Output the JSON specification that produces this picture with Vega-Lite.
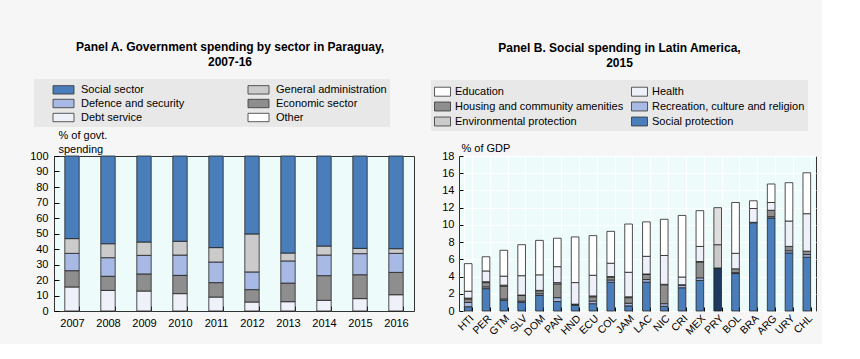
{
  "$schema": "https://vega.github.io/schema/vega-lite/v6.json",
  "background": "#f6f6f6",
  "padding": {"left": 29, "top": 40, "right": 5, "bottom": 5},
  "config": {
    "font": "Liberation Sans",
    "view": {"fill": "#eefbfb", "stroke": "#333333", "strokeWidth": 1},
    "axis": {"labelFontSize": 11, "labelColor": "#000000", "domain": false, "tickColor": "#000000", "gridColor": "#ffffff", "gridWidth": 1, "titleFontWeight": "normal", "titleFontSize": 11, "titleColor": "#000000"},
    "legend": {"labelFontSize": 11, "labelColor": "#000000", "fillColor": "#e8e8e8", "symbolStrokeColor": "#333333", "symbolStrokeWidth": 0.8},
    "title": {"fontSize": 12, "fontWeight": "bold", "anchor": "middle", "color": "#000000", "lineHeight": 15.5},
    "concat": {"spacing": 15}
  },
  "hconcat": [
    {
      "width": 360,
      "height": 155,
      "title": {"text": ["Panel A. Government spending by sector in Paraguay,", "2007-16"], "dx": -4, "offset": 10},
      "data": {"values": [
        {"year": "2007", "s": "Debt service", "o": 1, "v": 15.5}, {"year": "2007", "s": "Economic sector", "o": 2, "v": 10.5}, {"year": "2007", "s": "Defence and security", "o": 3, "v": 11.2}, {"year": "2007", "s": "General administration", "o": 4, "v": 9.5}, {"year": "2007", "s": "Social sector", "o": 5, "v": 53.3},
        {"year": "2008", "s": "Debt service", "o": 1, "v": 13.3}, {"year": "2008", "s": "Economic sector", "o": 2, "v": 9.1}, {"year": "2008", "s": "Defence and security", "o": 3, "v": 12.0}, {"year": "2008", "s": "General administration", "o": 4, "v": 9.0}, {"year": "2008", "s": "Social sector", "o": 5, "v": 56.6},
        {"year": "2009", "s": "Debt service", "o": 1, "v": 12.9}, {"year": "2009", "s": "Economic sector", "o": 2, "v": 11.0}, {"year": "2009", "s": "Defence and security", "o": 3, "v": 12.0}, {"year": "2009", "s": "General administration", "o": 4, "v": 8.6}, {"year": "2009", "s": "Social sector", "o": 5, "v": 55.5},
        {"year": "2010", "s": "Debt service", "o": 1, "v": 11.2}, {"year": "2010", "s": "Economic sector", "o": 2, "v": 11.8}, {"year": "2010", "s": "Defence and security", "o": 3, "v": 13.1}, {"year": "2010", "s": "General administration", "o": 4, "v": 8.9}, {"year": "2010", "s": "Social sector", "o": 5, "v": 55.0},
        {"year": "2011", "s": "Debt service", "o": 1, "v": 9.0}, {"year": "2011", "s": "Economic sector", "o": 2, "v": 9.3}, {"year": "2011", "s": "Defence and security", "o": 3, "v": 13.3}, {"year": "2011", "s": "General administration", "o": 4, "v": 9.3}, {"year": "2011", "s": "Social sector", "o": 5, "v": 59.1},
        {"year": "2012", "s": "Debt service", "o": 1, "v": 5.8}, {"year": "2012", "s": "Economic sector", "o": 2, "v": 8.0}, {"year": "2012", "s": "Defence and security", "o": 3, "v": 11.4}, {"year": "2012", "s": "General administration", "o": 4, "v": 24.5}, {"year": "2012", "s": "Social sector", "o": 5, "v": 50.3},
        {"year": "2013", "s": "Debt service", "o": 1, "v": 6.0}, {"year": "2013", "s": "Economic sector", "o": 2, "v": 12.0}, {"year": "2013", "s": "Defence and security", "o": 3, "v": 14.3}, {"year": "2013", "s": "General administration", "o": 4, "v": 5.1}, {"year": "2013", "s": "Social sector", "o": 5, "v": 62.6},
        {"year": "2014", "s": "Debt service", "o": 1, "v": 6.9}, {"year": "2014", "s": "Economic sector", "o": 2, "v": 15.9}, {"year": "2014", "s": "Defence and security", "o": 3, "v": 13.3}, {"year": "2014", "s": "General administration", "o": 4, "v": 5.8}, {"year": "2014", "s": "Social sector", "o": 5, "v": 58.1},
        {"year": "2015", "s": "Debt service", "o": 1, "v": 8.0}, {"year": "2015", "s": "Economic sector", "o": 2, "v": 15.4}, {"year": "2015", "s": "Defence and security", "o": 3, "v": 13.6}, {"year": "2015", "s": "General administration", "o": 4, "v": 3.4}, {"year": "2015", "s": "Social sector", "o": 5, "v": 59.6},
        {"year": "2016", "s": "Debt service", "o": 1, "v": 10.5}, {"year": "2016", "s": "Economic sector", "o": 2, "v": 14.4}, {"year": "2016", "s": "Defence and security", "o": 3, "v": 12.3}, {"year": "2016", "s": "General administration", "o": 4, "v": 3.0}, {"year": "2016", "s": "Social sector", "o": 5, "v": 59.8}
      ]},
      "mark": {"type": "bar", "stroke": "#222222", "strokeWidth": 0.8},
      "encoding": {
        "x": {"field": "year", "type": "nominal", "scale": {"paddingInner": 0.6, "paddingOuter": 0.3},
          "axis": {"title": null, "labelAngle": 0, "tickBand": "extent", "tickSize": -5, "labelPadding": 11, "grid": true}},
        "y": {"field": "v", "type": "quantitative", "stack": "zero", "scale": {"domain": [0, 100]},
          "axis": {"title": ["% of govt.", "spending"], "titleAngle": 0, "titleX": 4, "titleY": -27, "titleAlign": "left", "titleBaseline": "top", "titleLineHeight": 14,
            "values": [0, 10, 20, 30, 40, 50, 60, 70, 80, 90, 100], "tickSize": -5, "labelPadding": 11, "grid": false}},
        "order": {"field": "o", "type": "quantitative", "sort": "ascending"},
        "color": {"field": "s", "type": "nominal",
          "scale": {"domain": ["Social sector", "General administration", "Defence and security", "Economic sector", "Debt service", "Other"],
            "range": ["#4a7ebb", "#cbcbcb", "#a7b9e4", "#8e8e8e", "#eef0fa", "#ffffff"]},
          "legend": {"title": null, "orient": "none", "legendX": -20, "legendY": -77, "direction": "horizontal", "columns": 2,
            "symbolType": "M-1.5,-0.6H1.5V0.6H-1.5Z", "symbolSize": 196, "labelOffset": 10, "padding": 3, "symbolOffset": 19, "rowPadding": 0, "columnPadding": 47, "labelLimit": 300}}
      }
    },
    {
      "width": 357,
      "height": 155,
      "title": {"text": ["Panel B. Social spending in Latin America,", "2015"], "dx": -18, "offset": 10},
      "data": {"values": [
        {"c": "HTI", "s": "Social protection", "o": 1, "v": 0.5}, {"c": "HTI", "s": "Recreation, culture and religion", "o": 2, "v": 0.5}, {"c": "HTI", "s": "Housing and community amenities", "o": 3, "v": 0.4}, {"c": "HTI", "s": "Environmental protection", "o": 4, "v": 0.1}, {"c": "HTI", "s": "Health", "o": 5, "v": 0.8}, {"c": "HTI", "s": "Education", "o": 6, "v": 3.2},
        {"c": "PER", "s": "Social protection", "o": 1, "v": 2.6}, {"c": "PER", "s": "Recreation, culture and religion", "o": 2, "v": 0.2}, {"c": "PER", "s": "Housing and community amenities", "o": 3, "v": 0.5}, {"c": "PER", "s": "Environmental protection", "o": 4, "v": 0.1}, {"c": "PER", "s": "Health", "o": 5, "v": 1.25}, {"c": "PER", "s": "Education", "o": 6, "v": 1.65},
        {"c": "GTM", "s": "Social protection", "o": 1, "v": 1.25}, {"c": "GTM", "s": "Recreation, culture and religion", "o": 2, "v": 0.15}, {"c": "GTM", "s": "Housing and community amenities", "o": 3, "v": 1.5}, {"c": "GTM", "s": "Environmental protection", "o": 4, "v": 0.1}, {"c": "GTM", "s": "Health", "o": 5, "v": 1.05}, {"c": "GTM", "s": "Education", "o": 6, "v": 3.0},
        {"c": "SLV", "s": "Social protection", "o": 1, "v": 1.0}, {"c": "SLV", "s": "Recreation, culture and religion", "o": 2, "v": 0.15}, {"c": "SLV", "s": "Housing and community amenities", "o": 3, "v": 0.65}, {"c": "SLV", "s": "Environmental protection", "o": 4, "v": 0.05}, {"c": "SLV", "s": "Health", "o": 5, "v": 2.25}, {"c": "SLV", "s": "Education", "o": 6, "v": 3.6},
        {"c": "DOM", "s": "Social protection", "o": 1, "v": 1.8}, {"c": "DOM", "s": "Recreation, culture and religion", "o": 2, "v": 0.2}, {"c": "DOM", "s": "Housing and community amenities", "o": 3, "v": 0.35}, {"c": "DOM", "s": "Environmental protection", "o": 4, "v": 0.05}, {"c": "DOM", "s": "Health", "o": 5, "v": 1.8}, {"c": "DOM", "s": "Education", "o": 6, "v": 4.0},
        {"c": "PAN", "s": "Social protection", "o": 1, "v": 1.1}, {"c": "PAN", "s": "Recreation, culture and religion", "o": 2, "v": 0.45}, {"c": "PAN", "s": "Housing and community amenities", "o": 3, "v": 1.6}, {"c": "PAN", "s": "Environmental protection", "o": 4, "v": 0.15}, {"c": "PAN", "s": "Health", "o": 5, "v": 1.85}, {"c": "PAN", "s": "Education", "o": 6, "v": 3.3},
        {"c": "HND", "s": "Social protection", "o": 1, "v": 0.65}, {"c": "HND", "s": "Recreation, culture and religion", "o": 2, "v": 0.1}, {"c": "HND", "s": "Housing and community amenities", "o": 3, "v": 0.05}, {"c": "HND", "s": "Health", "o": 5, "v": 2.5}, {"c": "HND", "s": "Education", "o": 6, "v": 5.3},
        {"c": "ECU", "s": "Social protection", "o": 1, "v": 0.85}, {"c": "ECU", "s": "Recreation, culture and religion", "o": 2, "v": 0.3}, {"c": "ECU", "s": "Housing and community amenities", "o": 3, "v": 0.5}, {"c": "ECU", "s": "Environmental protection", "o": 4, "v": 0.1}, {"c": "ECU", "s": "Health", "o": 5, "v": 2.4}, {"c": "ECU", "s": "Education", "o": 6, "v": 4.6},
        {"c": "COL", "s": "Social protection", "o": 1, "v": 3.35}, {"c": "COL", "s": "Recreation, culture and religion", "o": 2, "v": 0.25}, {"c": "COL", "s": "Housing and community amenities", "o": 3, "v": 0.35}, {"c": "COL", "s": "Environmental protection", "o": 4, "v": 0.05}, {"c": "COL", "s": "Health", "o": 5, "v": 1.55}, {"c": "COL", "s": "Education", "o": 6, "v": 3.7},
        {"c": "JAM", "s": "Social protection", "o": 1, "v": 0.6}, {"c": "JAM", "s": "Recreation, culture and religion", "o": 2, "v": 0.3}, {"c": "JAM", "s": "Housing and community amenities", "o": 3, "v": 0.65}, {"c": "JAM", "s": "Environmental protection", "o": 4, "v": 0.1}, {"c": "JAM", "s": "Health", "o": 5, "v": 2.85}, {"c": "JAM", "s": "Education", "o": 6, "v": 5.6},
        {"c": "LAC", "s": "Social protection", "o": 1, "v": 3.35}, {"c": "LAC", "s": "Recreation, culture and religion", "o": 2, "v": 0.3}, {"c": "LAC", "s": "Housing and community amenities", "o": 3, "v": 0.6}, {"c": "LAC", "s": "Environmental protection", "o": 4, "v": 0.05}, {"c": "LAC", "s": "Health", "o": 5, "v": 2.05}, {"c": "LAC", "s": "Education", "o": 6, "v": 4.0},
        {"c": "NIC", "s": "Social protection", "o": 1, "v": 0.55}, {"c": "NIC", "s": "Recreation, culture and religion", "o": 2, "v": 0.3}, {"c": "NIC", "s": "Housing and community amenities", "o": 3, "v": 2.2}, {"c": "NIC", "s": "Environmental protection", "o": 4, "v": 0.05}, {"c": "NIC", "s": "Health", "o": 5, "v": 3.35}, {"c": "NIC", "s": "Education", "o": 6, "v": 4.2},
        {"c": "CRI", "s": "Social protection", "o": 1, "v": 2.7}, {"c": "CRI", "s": "Recreation, culture and religion", "o": 2, "v": 0.3}, {"c": "CRI", "s": "Housing and community amenities", "o": 3, "v": 0.05}, {"c": "CRI", "s": "Health", "o": 5, "v": 0.9}, {"c": "CRI", "s": "Education", "o": 6, "v": 7.15},
        {"c": "MEX", "s": "Social protection", "o": 1, "v": 3.55}, {"c": "MEX", "s": "Recreation, culture and religion", "o": 2, "v": 0.3}, {"c": "MEX", "s": "Housing and community amenities", "o": 3, "v": 1.85}, {"c": "MEX", "s": "Environmental protection", "o": 4, "v": 0.05}, {"c": "MEX", "s": "Health", "o": 5, "v": 1.75}, {"c": "MEX", "s": "Education", "o": 6, "v": 4.15},
        {"c": "PRY", "s": "PRY Social protection", "o": 1, "v": 5.0}, {"c": "PRY", "s": "PRY Health", "o": 5, "v": 2.7}, {"c": "PRY", "s": "PRY Education", "o": 6, "v": 4.3},
        {"c": "BOL", "s": "Social protection", "o": 1, "v": 4.35}, {"c": "BOL", "s": "Recreation, culture and religion", "o": 2, "v": 0.1}, {"c": "BOL", "s": "Housing and community amenities", "o": 3, "v": 0.45}, {"c": "BOL", "s": "Health", "o": 5, "v": 1.8}, {"c": "BOL", "s": "Education", "o": 6, "v": 5.9},
        {"c": "BRA", "s": "Social protection", "o": 1, "v": 10.25}, {"c": "BRA", "s": "Recreation, culture and religion", "o": 2, "v": 0.05}, {"c": "BRA", "s": "Health", "o": 5, "v": 1.6}, {"c": "BRA", "s": "Education", "o": 6, "v": 0.9},
        {"c": "ARG", "s": "Social protection", "o": 1, "v": 10.8}, {"c": "ARG", "s": "Recreation, culture and religion", "o": 2, "v": 0.15}, {"c": "ARG", "s": "Housing and community amenities", "o": 3, "v": 0.75}, {"c": "ARG", "s": "Health", "o": 5, "v": 0.9}, {"c": "ARG", "s": "Education", "o": 6, "v": 2.15},
        {"c": "URY", "s": "Social protection", "o": 1, "v": 6.75}, {"c": "URY", "s": "Recreation, culture and religion", "o": 2, "v": 0.25}, {"c": "URY", "s": "Housing and community amenities", "o": 3, "v": 0.5}, {"c": "URY", "s": "Health", "o": 5, "v": 2.95}, {"c": "URY", "s": "Education", "o": 6, "v": 4.45},
        {"c": "CHL", "s": "Social protection", "o": 1, "v": 6.25}, {"c": "CHL", "s": "Recreation, culture and religion", "o": 2, "v": 0.3}, {"c": "CHL", "s": "Housing and community amenities", "o": 3, "v": 0.4}, {"c": "CHL", "s": "Health", "o": 5, "v": 4.35}, {"c": "CHL", "s": "Education", "o": 6, "v": 4.75}
      ]},
      "mark": {"type": "bar", "stroke": "#222222", "strokeWidth": 0.8},
      "encoding": {
        "x": {"field": "c", "type": "nominal",
          "scale": {"domain": ["HTI", "PER", "GTM", "SLV", "DOM", "PAN", "HND", "ECU", "COL", "JAM", "LAC", "NIC", "CRI", "MEX", "PRY", "BOL", "BRA", "ARG", "URY", "CHL"], "paddingInner": 0.57, "paddingOuter": 0.3},
          "axis": {"title": null, "labelAngle": -45, "labelFontSize": 10.5, "tickBand": "extent", "tickSize": -4, "labelPadding": 6, "grid": true}},
        "y": {"field": "v", "type": "quantitative", "stack": "zero", "scale": {"domain": [0, 18]},
          "axis": {"title": "% of GDP", "titleAngle": 0, "titleX": 2, "titleY": -14, "titleAlign": "left", "titleBaseline": "top",
            "values": [0, 2, 4, 6, 8, 10, 12, 14, 16, 18], "tickSize": -4, "labelPadding": 9, "grid": true}},
        "order": {"field": "o", "type": "quantitative", "sort": "ascending"},
        "color": {"field": "s", "type": "nominal",
          "scale": {"domain": ["Education", "Health", "Housing and community amenities", "Recreation, culture and religion", "Environmental protection", "Social protection", "PRY Social protection", "PRY Health", "PRY Education"],
            "range": ["#ffffff", "#eef0fa", "#8e8e8e", "#a7b9e4", "#cbcbcb", "#4a7ebb", "#1f3a5e", "#c9c9c9", "#dedede"]},
          "legend": {"title": null, "orient": "none", "legendX": -28, "legendY": -76, "direction": "horizontal", "columns": 2,
            "values": ["Education", "Health", "Housing and community amenities", "Recreation, culture and religion", "Environmental protection", "Social protection"],
            "symbolType": "M-1,-0.56H1V0.56H-1Z", "symbolSize": 256, "labelOffset": 4, "padding": 3, "rowPadding": -3, "columnPadding": 5, "labelLimit": 300}}
      }
    }
  ],
  "resolve": {"scale": {"color": "independent", "x": "independent", "y": "independent"}, "legend": {"color": "independent"}}
}
